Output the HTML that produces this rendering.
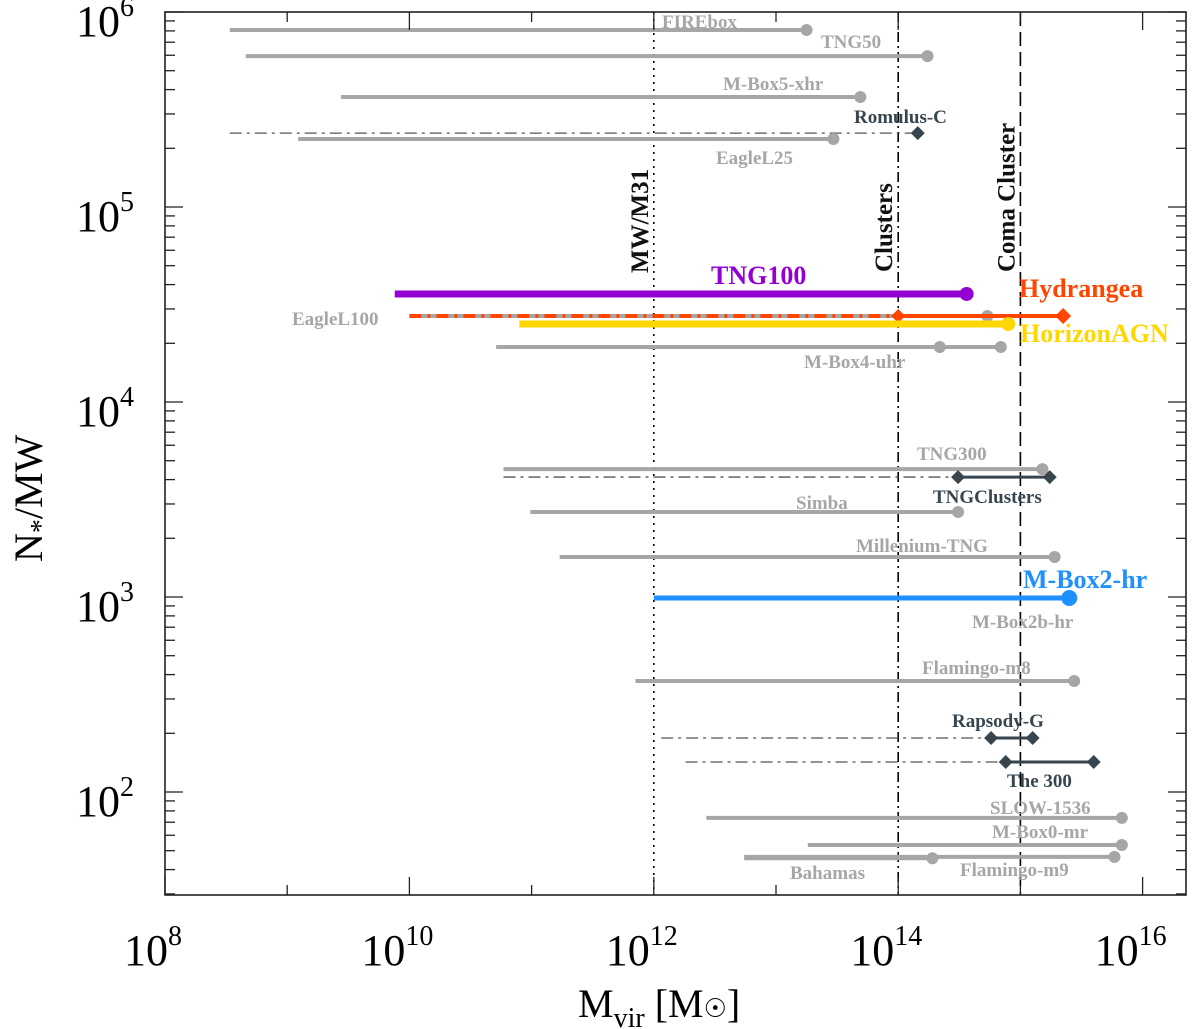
<!DOCTYPE html>
<html><head><meta charset="utf-8">
<style>
body{margin:0;background:#fff;}
svg{display:block;}
text{font-family:"Liberation Serif",serif;}
</style></head>
<body>
<svg id="chart" width="1200" height="1029" viewBox="0 0 1200 1029" xmlns="http://www.w3.org/2000/svg">
<g id="marks"></g>
<g id="axes"></g>
</svg>
<script>
// Data arrays (log10 values)
const names = ["FIREbox","TNG50","M-Box5-xhr","Romulus-C","EagleL25","TNG100","EagleL100","Hydrangea","HorizonAGN","M-Box4-uhr","TNG300","TNGClusters","Simba","Millenium-TNG","M-Box2-hr","Flamingo-m8","Rapsody-G","The 300","SLOW-1536","M-Box0-mr","Flamingo-m9","Bahamas"];
const logMmin = [8.53,8.66,9.44,8.53,9.09,9.88,10.0,10.0,10.9,10.71,10.77,10.77,10.99,11.23,12.0,11.85,12.06,12.26,12.43,13.26,12.74,12.74];
const logMzoom = [null,null,null,14.16,null,null,null,14.0,null,14.34,null,14.49,null,null,null,null,14.76,14.88,null,null,null,null];
const logMmax = [13.25,14.24,13.69,14.16,13.47,14.56,14.73,15.35,14.9,14.84,15.18,15.24,14.49,15.28,15.40,15.44,15.10,15.60,15.83,15.83,15.77,14.28];
const logN = [5.908,5.774,5.564,5.379,5.349,4.554,4.441,4.441,4.40,4.282,3.656,3.615,3.436,3.205,2.995,2.569,2.277,2.154,1.867,1.728,1.667,1.66];
const kinds = ["g","g","g","z","g","purple","eagle","hyd","yellow","g","g","z","g","g","blue","g","z","z","g","g","g","g"];
const refLines = [12,14,15];
const refNames = ["MW/M31","Clusters","Coma Cluster"];
const xTickLabels = [8,10,12,14,16];
const yTickLabels = [2,3,4,5,6];

const X0=165,X1=1186,Y0=12,Y1=895;
const xmin=8, xmax=8+(X1-X0)/122.2, ymax=6, ymin=6-(Y1-Y0)/195;
const sx=v=>X0+(v-xmin)/(xmax-xmin)*(X1-X0);
const sy=v=>Y0+(ymax-v)/(ymax-ymin)*(Y1-Y0);
const NS="http://www.w3.org/2000/svg";
const marks=document.getElementById('marks'), axes=document.getElementById('axes');
function mk(tag,attrs,parent){const e=document.createElementNS(NS,tag);for(const k in attrs)e.setAttribute(k,attrs[k]);parent.appendChild(e);return e;}

const refDash=["2,5","10,4,2,4","14,6"];
refLines.forEach((v,i)=>{
  const l=mk('line',{x1:sx(v),x2:sx(v),y1:Y0,y2:Y1,stroke:'#000','stroke-width':1.6,'stroke-dasharray':refDash[i]},marks);
  
  
});
const refLabelY=[273,272,272];
refNames.forEach((n,i)=>{
  const x=sx(refLines[i])-6;
  const t=mk('text',{x:x,y:refLabelY[i],transform:`rotate(-90 ${x} ${refLabelY[i]})`,'font-size':25,'font-weight':'bold',fill:'#111'},marks);
  t.textContent=n;
  
  
});

function diamond(x,y,c,s){const d=mk('polygon',{points:`${x},${y-s} ${x+s},${y} ${x},${y+s} ${x-s},${y}`,fill:c},marks);}
function circ(x,y,c,r){const d=mk('circle',{cx:x,cy:y,r:r,fill:c},marks);}

const GR='#a6a6a6', DK='#37454f';
names.forEach((n,i)=>{
  const y=sy(logN[i]), xa=sx(logMmin[i]), xb=sx(logMmax[i]);
  const k=kinds[i];
  const g=mk('g',{},marks);
  
  
  if(k==='g'){
    mk('line',{x1:xa,x2:xb,y1:y,y2:y,stroke:GR,'stroke-width':4},g);
    circ(xb,y,GR,6);
    if(logMzoom[i]) circ(sx(logMzoom[i]),y,GR,6);
  } else if(k==='z'){
    const xz=sx(logMzoom[i]);
    mk('line',{x1:xa,x2:xz,y1:y,y2:y,stroke:'#555','stroke-width':1.3,'stroke-dasharray':'12,5,3,5'},g);
    if(xb>xz+2){mk('line',{x1:xz,x2:xb,y1:y,y2:y,stroke:DK,'stroke-width':3},g);diamond(xb,y,DK,7);}
    diamond(xz,y,DK,7);
  } else if(k==='purple'){
    mk('line',{x1:xa,x2:xb,y1:y,y2:y,stroke:'#9400d3','stroke-width':7},g);circ(xb,y,'#9400d3',7);
  } else if(k==='yellow'){
    mk('line',{x1:xa,x2:xb,y1:y,y2:y,stroke:'#ffd700','stroke-width':7},g);circ(xb,y,'#ffd700',7);
  } else if(k==='blue'){
    mk('line',{x1:xa,x2:xb,y1:y,y2:y,stroke:'#1e90ff','stroke-width':5},g);circ(xb,y,'#1e90ff',8);
  } else if(k==='eagle'){
    mk('line',{x1:xa,x2:xb,y1:y,y2:y,stroke:GR,'stroke-width':4},g);circ(xb,y,GR,6);
  } else if(k==='hyd'){
    const xz=sx(logMzoom[i]);
    mk('line',{x1:xa,x2:xz,y1:y,y2:y,stroke:'#ff4500','stroke-width':4,'stroke-dasharray':'12,6,3,6'},g);
    mk('line',{x1:xz,x2:xb,y1:y,y2:y,stroke:'#ff4500','stroke-width':4},g);
    diamond(xz,y,'#ff4500',7);diamond(xb,y,'#ff4500',8);
  }
});

const labs=[
 ["FIREbox",662,28,GR,19],["TNG50",821,48,GR,19],["M-Box5-xhr",723,90,GR,19],["Romulus-C",854,123,DK,19],
 ["EagleL25",716,164,GR,19],["TNG100",711,284,'#9400d3',26],["Hydrangea",1019,297,'#ff4500',26],
 ["EagleL100",292,325,GR,19],["HorizonAGN",1020,342,'#ffd700',26],["M-Box4-uhr",804,368,GR,19],
 ["TNG300",917,460,GR,19],["TNGClusters",933,503,DK,19],["Simba",796,509,GR,19],["Millenium-TNG",856,552,GR,19],
 ["M-Box2-hr",1023,588,'#1e90ff',26],["M-Box2b-hr",972,628,GR,19],["Flamingo-m8",922,674,GR,19],
 ["Rapsody-G",952,727,DK,19],["The 300",1007,787,DK,19],["SLOW-1536",990,814,GR,19],["M-Box0-mr",992,838,GR,19],
 ["Flamingo-m9",960,876,GR,19],["Bahamas",790,879,GR,19]];
labs.forEach(l=>{
  const t=mk('text',{x:l[1],y:l[2],fill:l[3],'font-size':l[4],'font-weight':'bold'},marks);
  t.textContent=l[0];
  
  
});

const fr=mk('rect',{x:X0,y:Y0,width:X1-X0,height:Y1-Y0,fill:'none',stroke:'#222','stroke-width':1.6},axes);

for(let d=8;d<=16;d++){
  const x=sx(d), L=(d%2===0)?18:10;
  mk('line',{x1:x,x2:x,y1:Y1,y2:Y1-L,stroke:'#222','stroke-width':1.3},axes);
  mk('line',{x1:x,x2:x,y1:Y0,y2:Y0+L,stroke:'#222','stroke-width':1.3},axes);
}
xTickLabels.forEach(d=>{
  const t=mk('text',{x:sx(d)-12,y:965,'font-size':44,'text-anchor':'middle'},axes);
  t.innerHTML=`10<tspan dy="-20" font-size="28">${d}</tspan>`;
  
});
for(let d=1;d<=6;d++){
  for(let m=1;m<=9;m++){
    const v=d+Math.log10(m); if(v<ymin||v>ymax)continue;
    const y=sy(v), L=m===1?18:10;
    mk('line',{x1:X0,x2:X0+L,y1:y,y2:y,stroke:'#222','stroke-width':1.3},axes);
    mk('line',{x1:X1,x2:X1-L,y1:y,y2:y,stroke:'#222','stroke-width':1.3},axes);
  }
}
yTickLabels.forEach(d=>{
  const t=mk('text',{x:76,y:sy(d)+24,'font-size':44},axes);
  t.innerHTML=`10<tspan dy="-20" font-size="28">${d}</tspan>`;
  
});
const xt=mk('text',{x:578,y:1017,'font-size':40},axes);
xt.innerHTML='M<tspan dy="10" font-size="28">vir</tspan><tspan dy="-10"> [M</tspan><tspan font-size="26">☉</tspan>]';

const yt=mk('text',{x:42,y:562,'font-size':40,transform:'rotate(-90 42 562)'},axes);
yt.innerHTML='N<tspan dy="8" font-size="28">*</tspan><tspan dy="-8">/MW</tspan>';

</script>
</body></html>
